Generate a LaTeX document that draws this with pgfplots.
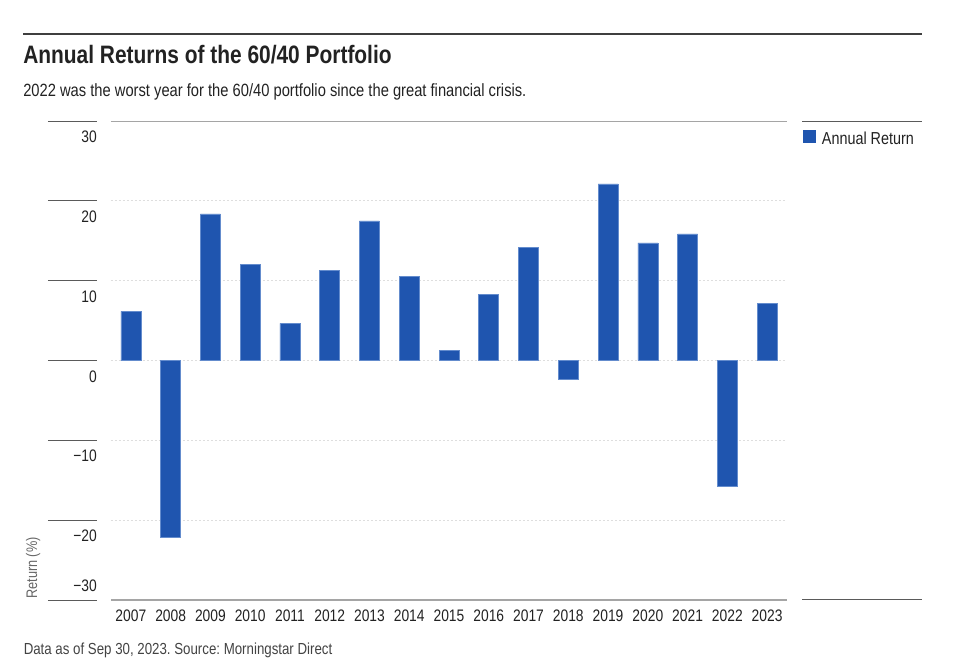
\documentclass[border=0pt]{standalone}
\usepackage{fontspec}
\setmainfont{Liberation Sans}[FakeStretch=0.83]
\usepackage{pgfplots}
\usepackage{pgfplotstable}
\pgfplotsset{compat=1.18}

\definecolor{barblue}{RGB}{31,85,175}
\definecolor{edgeblue}{RGB}{100,140,205}
\definecolor{ink}{RGB}{34,34,34}
\definecolor{rulegray}{RGB}{90,90,90}
\definecolor{gridgray}{RGB}{222,222,222}
\definecolor{axisgray}{RGB}{165,165,165}
\definecolor{labelgray}{RGB}{102,102,102}

% annual return of the 60/40 portfolio, %
\pgfplotstableread{
x year ret
0 2007 6.15
1 2008 -22.08
2 2009 18.37
3 2010 12.05
4 2011 4.64
5 2012 11.25
6 2013 17.49
7 2014 10.54
8 2015 1.25
9 2016 8.28
10 2017 14.18
11 2018 -2.33
12 2019 22.13
13 2020 14.73
14 2021 15.86
15 2022 -15.81
16 2023 7.20
}\returns

\begin{document}
\frenchspacing
\begin{tikzpicture}
% page furniture, in pixel units of the reference (y down)
\begin{scope}[x=0.75pt,y=-0.75pt]
\path[use as bounding box] (0,0) rectangle (958,664);
\draw[rulegray!70!black, line width=1.5pt] (23,34) -- (922,34);
\node[anchor=base west, inner sep=0pt, text=ink,
      font=\fontsize{18.9}{22}\selectfont\bfseries] at (23,63.3)
  {Annual Returns of the 60/40 Portfolio};
\node[anchor=base west, inner sep=0pt, text=ink,
      font=\fontsize{13.3}{16}\selectfont] at (23,96.7)
  {2022 was the worst year for the 60/40 portfolio since the great financial crisis.};
\node[anchor=base west, inner sep=0pt, text=ink!85,
      font=\fontsize{12}{14}\selectfont] at (23.5,654.3)
  {Data as of Sep 30, 2023. Source: Morningstar Direct};
\node[rotate=90, anchor=base west, inner sep=0pt, text=labelgray,
      font=\fontsize{11.5}{13}\selectfont] at (37,599) {Return (\%)};
\draw[rulegray, line width=0.75pt] (802,121.5) -- (922,121.5);
\draw[rulegray, line width=0.75pt] (802,599.5) -- (922,599.5);
\end{scope}

\begin{axis}[
    at={(83.25pt,-450pt)}, anchor=south west,
    width=507pt, height=359.25pt, scale only axis,
    xmin=-0.5, xmax=16.5, ymin=-30, ymax=30,
    axis line style={draw=none},
    clip=false,
    tick style={draw=none}, major tick length=0pt,
    xtick={0,...,16},
    xticklabels={2007,2008,2009,2010,2011,2012,2013,2014,2015,2016,2017,2018,2019,2020,2021,2022,2023},
    ytick={-20,-10,0,10,20,30},
    yticklabels={−20,−10,0,10,20,30},
    extra y ticks={-30},
    extra y tick labels={−30},
    extra y tick style={yticklabel style={anchor=south east, yshift=13.3pt}},
    ymajorgrids,
    grid style={gridgray, line width=0.75pt, dash pattern=on 1.5pt off 1.5pt},
    yticklabel style={anchor=north east, inner sep=0pt, xshift=-10.5pt, yshift=-7.3pt,
                      font=\fontsize{12.5}{14}\selectfont, text=ink},
    xticklabel style={anchor=north, inner sep=0pt, yshift=-7.5pt,
                      font=\fontsize{12.5}{14}\selectfont, text=ink},
    legend style={at={(axis description cs:1,1)}, anchor=north west,
                  xshift=12pt, yshift=-6.25pt, draw=none, fill=none, inner sep=0pt,
                  font=\fontsize{13}{15}\selectfont, text=ink},
    legend cell align=left,
]
\addplot[ybar, bar width=15pt, bar shift=0pt, fill=barblue, draw=edgeblue, line width=0.4pt,
    legend image code/.code={\fill[barblue, draw=none] (0pt,-2.75pt) rectangle (9.75pt,7pt);
                             \path[draw=none, fill=none] (0pt,0pt) -- (12pt,0pt);}]
    table[x=x, y=ret] {\returns};
\addlegendentry{Annual Return}
\draw[axisgray, line width=0.75pt] (rel axis cs:0,1) -- (rel axis cs:1,1);
\draw[axisgray, line width=1.5pt] (rel axis cs:0,0) -- (rel axis cs:1,0);
\pgfplotsinvokeforeach{-30,-20,-10,0,10,20,30}{
  \draw[rulegray, line width=0.75pt] ([xshift=-47.25pt]axis cs:-0.5,#1) -- ([xshift=-10.5pt]axis cs:-0.5,#1);
}
\end{axis}
\end{tikzpicture}
\end{document}
